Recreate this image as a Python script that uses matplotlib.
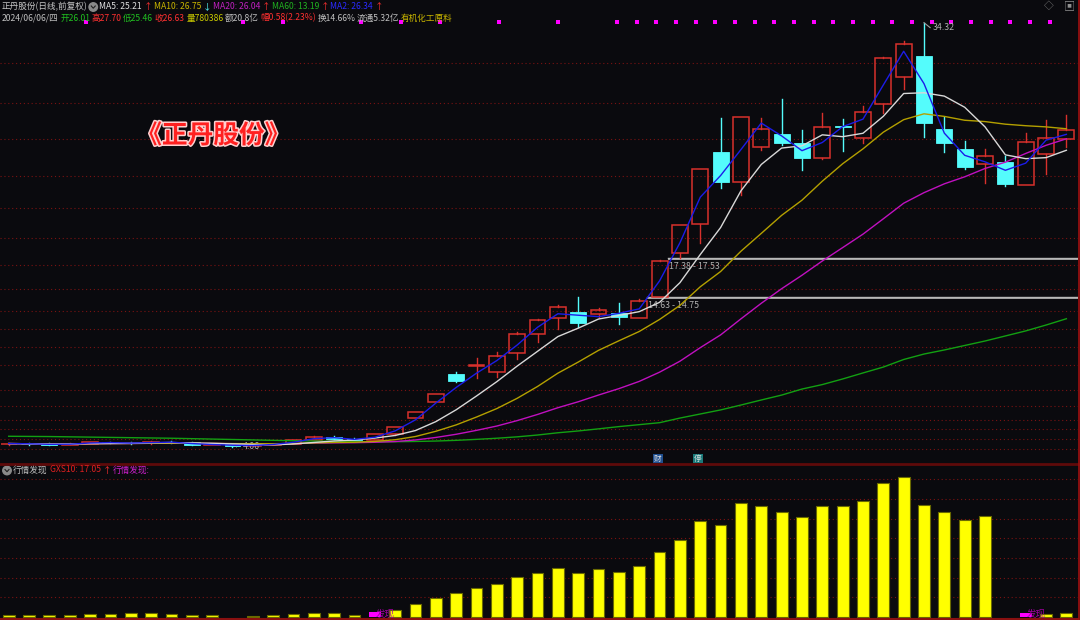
import numpy as np
import pandas as pd
import matplotlib
matplotlib.use("Agg")
import matplotlib.pyplot as plt
import matplotlib.patheffects as pe
from matplotlib import font_manager as fm
from matplotlib.patches import Rectangle, Ellipse
from matplotlib.lines import Line2D

plt.rcParams['font.family'] = ['Noto Sans CJK SC', 'DejaVu Sans']

# narrow face for the header lines if it is installed
try:
    fm.findfont('Liberation Sans Narrow', fallback_to_default=False)
    HEAD = ['Liberation Sans Narrow', 'Noto Sans CJK SC', 'DejaVu Sans']
except Exception:
    HEAD = ['Noto Sans CJK SC', 'DejaVu Sans']

# ---- daily K-line data ----
opens = [4.22, 4.28, 4.26, 4.20, 4.28, 4.36, 4.33, 4.30, 4.40, 4.36,
         4.20, 4.22, 4.12, 4.18, 4.28, 4.55, 4.76, 4.62, 4.51, 4.94,
         6.13, 7.27, 9.27, 9.80, 9.37, 10.72, 12.08, 13.24, 13.65, 13.53,
         13.58, 13.26, 14.75, 17.90, 19.95, 25.07, 22.93, 25.43, 26.38, 25.73,
         24.64, 26.92, 26.11, 28.50, 30.42, 31.94, 26.71, 25.33, 24.26, 24.38,
         22.74, 24.93, 26.01]
highs = [4.32, 4.33, 4.30, 4.30, 4.40, 4.41, 4.38, 4.43, 4.44, 4.38,
         4.27, 4.26, 4.22, 4.28, 4.55, 4.82, 4.80, 4.66, 4.96, 5.45,
         6.52, 7.84, 9.38, 10.37, 10.84, 12.27, 13.17, 14.17, 14.76, 13.96,
         14.29, 14.63, 17.38, 19.90, 23.86, 27.54, 27.58, 27.49, 28.85, 26.66,
         27.90, 27.42, 28.40, 31.85, 33.04, 34.32, 27.61, 25.90, 25.28, 24.81,
         26.43, 27.35, 27.70]
lows = [4.18, 4.20, 4.17, 4.18, 4.25, 4.30, 4.27, 4.28, 4.33, 4.17,
        4.15, 4.06, 4.10, 4.15, 4.25, 4.52, 4.60, 4.48, 4.50, 4.92,
        6.10, 7.25, 8.65, 8.98, 9.05, 10.30, 11.53, 12.43, 12.62, 13.34,
        12.79, 13.22, 14.75, 17.53, 18.57, 22.54, 22.02, 25.23, 25.59, 23.81,
        24.62, 25.16, 25.76, 27.85, 29.59, 26.18, 25.07, 23.86, 22.86, 22.69,
        22.74, 23.50, 25.46]
closes = [4.28, 4.25, 4.20, 4.27, 4.37, 4.33, 4.30, 4.40, 4.36, 4.20,
          4.22, 4.10, 4.18, 4.25, 4.50, 4.76, 4.64, 4.52, 4.94, 5.43,
          6.52, 7.82, 8.75, 9.86, 10.55, 12.08, 13.08, 14.01, 12.87, 13.81,
          13.34, 14.45, 17.34, 19.88, 23.85, 22.97, 27.56, 26.75, 25.73, 24.64,
          26.90, 26.90, 27.97, 31.78, 32.78, 27.16, 25.71, 24.00, 24.78, 22.79,
          25.80, 26.07, 26.63]
ma60 = [4.80, 4.79, 4.78, 4.76, 4.74, 4.72, 4.70, 4.68, 4.66, 4.63,
        4.60, 4.57, 4.54, 4.51, 4.48, 4.46, 4.44, 4.42, 4.41, 4.41,
        4.43, 4.46, 4.51, 4.58, 4.66, 4.76, 4.89, 5.05, 5.18, 5.33,
        5.49, 5.63, 5.77, 6.10, 6.39, 6.68, 7.03, 7.39, 7.74, 8.17,
        8.49, 8.89, 9.32, 9.74, 10.28, 10.67, 10.96, 11.28, 11.60, 11.96,
        12.32, 12.74, 13.19]

# 行情发现 indicator (GXS10)
gxs10 = [9.2, 9.2, 9.2, 9.2, 13.2, 13.2, 16, 16, 13.2, 9.2,
         9.2, 0, 6.4, 9.2, 13.2, 16, 16, 9.2, 0, 30.4,
         52, 76, 96, 117, 132, 160, 177, 197, 176, 192,
         182, 205, 260, 308, 385, 368, 457, 444, 421, 401,
         444, 444, 465, 537, 560, 448, 421, 388, 404, 0,
         0, 14.4, 17.05]
signal_days = [18, 50]
signal_vals = [20, 16]

# gap bands (low, high, start day)
gap_low = [14.63, 17.38]
gap_high = [14.75, 17.53]
gap_start = [31, 32]

grid_prices = [31.47, 28.62, 26.02, 23.40, 21.07, 18.97, 17.06, 15.31, 13.74,
               12.44, 11.19, 9.89, 8.10, 6.98, 5.96, 5.34, 4.63, 3.87]
grid_gxs = [80, 159, 238, 316, 394, 472, 552]

row1 = [('正丹股份(日线,前复权)', '#c8c8c8', 2), ('ICON', None, 86),
        ('MA5: 25.21', '#e0e0e0', 97), ('↑', '#ff3030', 137),
        ('MA10: 26.75', '#c8b400', 147), ('↓', '#54fcfc', 193),
        ('MA20: 26.04', '#c020c0', 202), ('↑', '#ff3030', 248),
        ('MA60: 13.19', '#20b020', 257), ('↑', '#ff3030', 303),
        ('MA2: 26.34', '#2a2aff', 312), ('↑', '#ff3030', 353)]
row2 = [('2024/06/06/四', '#c0c0c0', 2), ('开26.01', '#20c020', 54),
        ('高27.70', '#ff3030', 84), ('低25.46', '#20c020', 115),
        ('收26.63', '#ff3030', 146), ('量780386', '#c8c800', 177),
        ('额20.8亿', '#c0c0c0', 217), ('幅0.58(2.23%)', '#ff3030', 251),
        ('换14.66%', '#c0c0c0', 304), ('流通5.32亿', '#c0c0c0', 343),
        ('有机化工原料', '#c8b400', 386)]
row3 = [('ICON', None, 3), ('行情发现', '#c0c0c0', 13), ('GXS10: 17.05', '#e02020', 50),
        ('↑', '#ff3030', 102), ('行情发现:', '#d020d0', 111)]

BG = '#0a0a0e'
RED = '#d8302c'
CYAN = '#54fcfc'
GRID = '#7a1212'

df = pd.DataFrame({'o': opens, 'h': highs, 'l': lows, 'c': closes})
n = len(df)
idx = np.arange(n)
ma2 = df.c.rolling(2, min_periods=1).mean()
ma5 = df.c.rolling(5, min_periods=1).mean()
ma10 = df.c.rolling(10, min_periods=1).mean()
ma20 = df.c.rolling(20, min_periods=1).mean()

W, H = 1080, 620
fig = plt.figure(figsize=(10.8, 6.2), dpi=100, facecolor=BG)

step = 20.34   # px between candles
x0 = 8.7       # px of first candle
xl = (-x0 / step, (1078 - x0) / step)

ax = fig.add_axes([0, 1 - 463 / H, 1078 / W, 463 / H], facecolor=BG)
ax.set_xlim(*xl)
ax.set_ylim(34.32 - (463 - 22.7) / 14.01, 34.32 + 22.7 / 14.01)

ax2 = fig.add_axes([0, 1 - 619 / H, 1078 / W, (619 - 463.5) / H], facecolor=BG)
ax2.set_xlim(*xl)
ax2.set_ylim(-6.8, 615.2)

for a in (ax, ax2):
    a.set_xticks([])
    a.set_yticks([])
    for s in a.spines.values():
        s.set_visible(False)

for g in grid_prices:
    ax.axhline(g, color=GRID, lw=0.8, ls=(0, (1, 2.5)), zorder=0)
for g in grid_gxs:
    ax2.axhline(g, color=GRID, lw=0.8, ls=(0, (1, 2.5)), zorder=0)

# pink dotted marks along the top
dot_k = [0, 8, 10, 14, 16, 18, 21, 24] + list(range(27, 50))
dot_x = [(86 + 19.67 * k - x0) / step for k in dot_k]
ax.plot(dot_x, [34.37] * len(dot_x), ls='none', marker='s', ms=2.2,
        color='#ff00ff', mew=0)

# gap bands
for lo, hi, st in zip(gap_low, gap_high, gap_start):
    ax.fill_between([st + 0.4, xl[1]], lo, hi, color='#9a9a9a', lw=0, zorder=1)
    ax.plot([st + 0.4, xl[1]], [hi, hi], color='#b8b8b8', lw=1, zorder=1)
ax.text(31.45, 14.69 - 0.55, '14.63 - 14.75', color='#b0b0b0', fontsize=6.3, va='center')
ax.text(32.45, 17.45 - 0.55, '17.38 - 17.53', color='#b0b0b0', fontsize=6.3, va='center')

# candles
w = 0.78
for i, r in df.iterrows():
    if r.c >= r.o:
        ax.plot([i, i], [r.h, r.c], color=RED, lw=1, zorder=3)
        ax.plot([i, i], [r.l, r.o], color=RED, lw=1, zorder=3)
        ax.add_patch(Rectangle((i - w / 2, r.o), w, max(r.c - r.o, 0.02),
                               fill=False, edgecolor=RED, lw=1.1, zorder=3))
    else:
        ax.plot([i, i], [r.l, r.h], color=CYAN, lw=1, zorder=3)
        ax.add_patch(Rectangle((i - w / 2, r.c), w, r.o - r.c,
                               facecolor=CYAN, edgecolor=CYAN, lw=0.6, zorder=3))

# moving averages
ax.plot(idx, ma60, color='#12a012', lw=1, zorder=4)
ax.plot(idx, ma20, color='#c010c0', lw=1, zorder=4)
ax.plot(idx, ma10, color='#b4a000', lw=1, zorder=4)
ax.plot(idx, ma5, color='#d8d8d8', lw=1, zorder=4)
ax.plot(idx, ma2, color='#1c1ce8', lw=1, zorder=4)

# high / low labels
hi_i = int(np.argmax(highs))
lo_i = int(np.argmin(lows))
ax.plot([hi_i, hi_i + 0.3], [highs[hi_i], highs[hi_i] - 0.35], color='#a0a0a0', lw=0.8, zorder=5)
ax.text(hi_i + 0.45, highs[hi_i] - 0.35, f'{highs[hi_i]:.2f}', color='#b0b0b0',
        fontsize=6.3, va='center')
ax.text(lo_i + 0.05, lows[lo_i], '←', color='#b0b0b0', fontsize=6, va='center')
ax.text(lo_i + 0.5, lows[lo_i], f'{lows[lo_i]:.2f}', color='#b0b0b0', fontsize=6.3, va='center')

# title
ax.text(0.198, 0.707, '《正丹股份》', transform=ax.transAxes, color='#ff2020',
        fontsize=18.5, fontweight='bold', ha='center', va='center', zorder=6,
        path_effects=[pe.Stroke(linewidth=2.2, foreground='#ffd0d0'), pe.Normal()])

# indicator bars
wb = 0.58
nz = [i for i in idx if gxs10[i] > 0]
ax2.bar(nz, [gxs10[i] for i in nz], width=wb, color='#ffff00', edgecolor='#6a6a00',
        lw=0.8, zorder=2)
ax2.bar(signal_days, signal_vals, width=wb, color='#ff00ff', lw=0, zorder=3)
for d in signal_days:
    ax2.text(d + 0.05, 12, '发现', color='#a000a0', fontsize=6.8, va='center', zorder=4)


def icon(xp, yp):
    fig.add_artist(Ellipse((xp / W, 1 - yp / H), 8.5 / W, 8.5 / H,
                           transform=fig.transFigure, color='#8a8a8a'))
    fig.add_artist(Line2D([(xp - 2) / W, xp / W, (xp + 2) / W],
                          [1 - (yp - 1) / H, 1 - (yp + 1.2) / H, 1 - (yp - 1) / H],
                          transform=fig.transFigure, color='#202020', lw=0.8))


renderer = fig.canvas.get_renderer()


def header(items, yp, size=6.2):
    end = 0
    for s, col, xp in items:
        xp = max(xp, end + 1.5)
        if s == 'ICON':
            icon(xp + 4, yp + 0.5)
            end = xp + 8.5
            continue
        t = fig.text(xp / W, 1 - yp / H, s, color=col, fontsize=size, va='center',
                     ha='left', family=HEAD)
        end = t.get_window_extent(renderer).x1


header(row1, 6.5)
header(row2, 18)
header(row3, 470)

# top right icons
fig.text(1044 / W, 1 - 6 / H, '◇', color='#808080', fontsize=7, va='center')
fig.text(1064 / W, 1 - 6 / H, '▣', color='#909090', fontsize=8, va='center')

# finance / suspension markers
fig.text(654 / W, 1 - 458.5 / H, '财', color='#e0e0e0', fontsize=5.5, va='center',
         bbox=dict(boxstyle='square,pad=0.12', fc='#1f4f8f', ec='none'))
fig.text(694 / W, 1 - 458.5 / H, '停', color='#e0e0e0', fontsize=5.5, va='center',
         bbox=dict(boxstyle='square,pad=0.12', fc='#1a7a7a', ec='none'))

# panel borders
fig.add_artist(Line2D([0, 1078 / W], [1 - 463.5 / H] * 2, transform=fig.transFigure,
                      color='#5e0a0a', lw=2))
fig.add_artist(Line2D([0, 1078 / W], [1 - 618.8 / H] * 2, transform=fig.transFigure,
                      color='#8a1010', lw=1.5))
fig.add_artist(Line2D([1078.5 / W] * 2, [0, 1], transform=fig.transFigure,
                      color='#a01010', lw=1.2))

fig.savefig('out.png', dpi=100, facecolor=BG)
